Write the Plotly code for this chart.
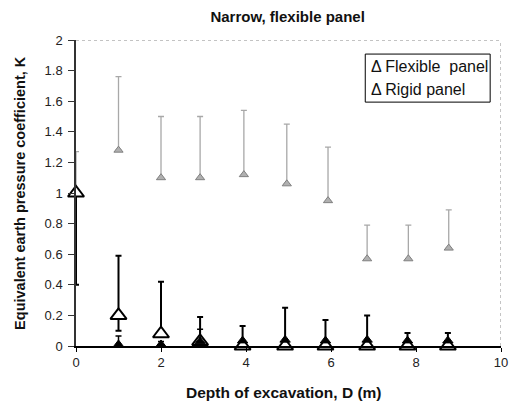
import plotly.graph_objects as go

# Flexible panel (hollow black triangles)
flex_x = [0, 1, 2, 2.92, 3.92, 4.92, 5.87, 6.85, 7.8, 8.75]
flex_y = [1.0, 0.2, 0.08, 0.03, 0.0, 0.0, 0.0, 0.0, 0.0, 0.0]
flex_up = [0.0, 0.39, 0.34, 0.16, 0.13, 0.25, 0.17, 0.2, 0.085, 0.085]
flex_dn = [0.6, 0.1, 0.0, 0.0, 0.0, 0.0, 0.0, 0.0, 0.0, 0.0]

# Flexible panel, lower readings (small filled black triangles)
low_x = [1, 2, 2.92, 3.92, 4.92, 5.87, 6.85, 7.8, 8.75]
low_y = [0.01, 0.01, 0.03, 0.035, 0.04, 0.035, 0.04, 0.035, 0.035]
low_up = [0.055, 0.02, 0.08, 0.0, 0.0, 0.0, 0.0, 0.0, 0.0]

# Rigid panel (grey triangles, dotted error bars)
rig_x = [0, 1, 2, 2.92, 3.95, 4.96, 5.93, 6.85, 7.82, 8.77]
rig_y = [1.0, 1.28, 1.1, 1.1, 1.12, 1.06, 0.95, 0.57, 0.57, 0.64]
rig_up = [0.27, 0.48, 0.4, 0.4, 0.42, 0.39, 0.35, 0.22, 0.22, 0.25]

x_ticks = [0, 2, 4, 6, 8, 10]
y_ticks = [0, 0.2, 0.4, 0.6, 0.8, 1, 1.2, 1.4, 1.6, 1.8, 2]
legend_labels = ["\u0394 Flexible  panel", "\u0394 Rigid panel"]

FONT = "Liberation Sans, Arial, sans-serif"

fig = go.Figure()

fig.add_trace(go.Scatter(
    x=rig_x, y=rig_y, mode="markers", showlegend=False, cliponaxis=False,
    marker=dict(symbol="triangle-up", size=8, color="#b0b0b0",
                line=dict(color="#808080", width=1)),
    error_y=dict(type="data", symmetric=False, array=rig_up,
                 arrayminus=[0] * len(rig_up), color="#a8a8a8",
                 thickness=1.3, width=3),
))

fig.add_trace(go.Scatter(
    x=flex_x, y=flex_y, mode="markers", showlegend=False, cliponaxis=False,
    marker=dict(symbol="triangle-up", size=14, color="white",
                line=dict(color="black", width=2)),
    error_y=dict(type="data", symmetric=False, array=flex_up,
                 arrayminus=flex_dn, color="black", thickness=2, width=3),
))

fig.add_trace(go.Scatter(
    x=low_x, y=low_y, mode="markers", showlegend=False, cliponaxis=False,
    marker=dict(symbol="triangle-up", size=9, color="black",
                line=dict(color="black", width=1)),
    error_y=dict(type="data", symmetric=False, array=low_up,
                 arrayminus=[0] * len(low_up), color="black",
                 thickness=1.5, width=3),
))

# dotted top/right frame
fig.add_shape(type="line", x0=0, x1=10, y0=2, y1=2, xref="x", yref="y",
              line=dict(color="#888888", width=1, dash="dot"))
fig.add_shape(type="line", x0=10, x1=10, y0=0, y1=2, xref="x", yref="y",
              line=dict(color="#888888", width=1, dash="dot"))

# legend box
fig.add_shape(type="rect", xref="paper", yref="paper",
              x0=0.6806, x1=0.9745, y0=0.797, y1=0.954,
              line=dict(color="black", width=1), fillcolor="white")

annots = [
    dict(text="<b>Depth of excavation, D (m)</b>", xref="paper",
         yref="paper", x=0.49, y=-0.152, yanchor="middle",
         showarrow=False, font=dict(size=15.5, family=FONT, color="#111111")),
    dict(text="<b>Equivalent earth pressure coefficient, K</b>",
         xref="paper", yref="paper", x=-0.132, y=0.5, textangle=-90,
         xanchor="center", yanchor="middle", showarrow=False,
         font=dict(size=14.5, family=FONT, color="#111111")),
]
for i, lab in enumerate(legend_labels):
    annots.append(dict(text=lab, xref="paper", yref="paper",
                       x=0.69, y=0.912 - i * 0.075, xanchor="left",
                       yanchor="middle", showarrow=False,
                       font=dict(size=16, family=FONT, color="#111111")))

fig.update_layout(
    width=517, height=404,
    margin=dict(l=76, r=9, t=40, b=58),
    paper_bgcolor="white", plot_bgcolor="white",
    font=dict(family=FONT, size=13, color="#222222"),
    title=dict(text="<b>Narrow, flexible panel</b>", x=0.498, xref="paper",
               xanchor="center",
               y=1 - 17 / 404, yref="container", yanchor="middle",
               font=dict(size=15, family=FONT, color="#111111")),
    showlegend=False,
    xaxis=dict(range=[0, 10], tickvals=x_ticks, showgrid=False,
               zeroline=False, showline=True, linecolor="black",
               linewidth=1.5, ticks="outside", ticklen=4, tickcolor="black",
               mirror=False),
    yaxis=dict(range=[0, 2], tickvals=y_ticks, showgrid=False,
               zeroline=False, showline=True, linecolor="#333333",
               linewidth=1.5, ticks="outside", ticklen=6, tickcolor="#333333",
               ticklabelstandoff=3, mirror=False),
    annotations=annots,
)

fig.write_html("out.html")
